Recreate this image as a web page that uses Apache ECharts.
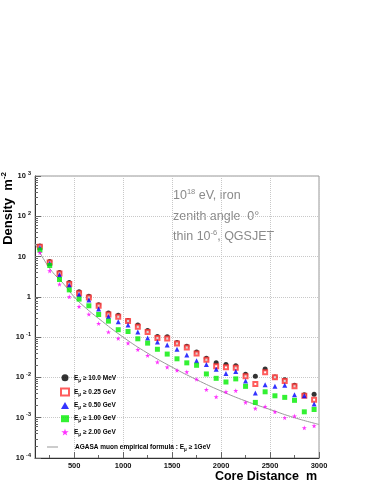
<!DOCTYPE html>
<html>
<head>
<meta charset="UTF-8">
<title></title>
<style>
html, body { margin: 0; padding: 0; background: #fff; }
#main { width: 382px; height: 494px; }
</style>
</head>
<body>
<div id="main"></div>
<script src="https://cdn.jsdelivr.net/npm/echarts@6/dist/echarts.min.js"></script>
<script>
// core distance of each simulated point (m)
const distances = [150, 250, 350, 450, 550, 650, 750, 850, 950, 1050, 1150, 1250, 1350, 1450, 1550,
  1650, 1750, 1850, 1950, 2050, 2150, 2250, 2350, 2450, 2550, 2650, 2750, 2850, 2950];

// densities (m^-2) per energy threshold
const e10MeV = [18.3, 7.5, 4.0, 2.26, 1.33, 1.03, 0.64, 0.40, 0.35, 0.26, 0.20, 0.147, 0.104, 0.103, 0.074,
  0.059, 0.043, 0.030, 0.023, 0.021, 0.0195, 0.012, 0.0107, 0.0162, 0.0103, 0.0087, 0.0064, 0.0037, 0.0038];
const e025GeV = [17.5, 7.1, 3.8, 2.1, 1.23, 0.96, 0.60, 0.365, 0.32, 0.25, 0.18, 0.135, 0.095, 0.093, 0.07,
  0.055, 0.039, 0.0275, 0.019, 0.018, 0.0175, 0.0107, 0.0069, 0.0134, 0.0101, 0.0082, 0.006, 0.0035, 0.0028];
const e050GeV = [16.5, 6.7, 3.5, 1.95, 1.14, 0.84, 0.50, 0.325, 0.24, 0.20, 0.134, 0.095, 0.076, 0.064, 0.05,
  0.036, 0.026, 0.021, 0.016, 0.0126, 0.014, 0.0082, 0.0041, 0.0066, 0.006, 0.0064, 0.0037, 0.0035, 0.0022];
const e100GeV = [14.5, 6.0, 2.7, 1.49, 0.88, 0.60, 0.365, 0.25, 0.153, 0.138, 0.091, 0.071, 0.05, 0.038, 0.029,
  0.023, 0.020, 0.0122, 0.0095, 0.0077, 0.0092, 0.006, 0.0024, 0.0044, 0.0035, 0.0032, 0.0027, 0.0014, 0.0016];
const e200GeV = [12.5, 4.4, 2.06, 1.0, 0.575, 0.37, 0.218, 0.134, 0.093, 0.071, 0.049, 0.035, 0.024, 0.018, 0.015,
  0.0137, 0.009, 0.005, 0.0033, 0.0044, 0.0047, 0.0024, 0.0017, 0.0019, 0.0014, 0.001, 0.0011, 0.00056, 0.00063];

// AGASA curve
const agasaR = [100, 150, 200, 250, 300, 350, 400, 500, 600, 750, 1000, 1250, 1500, 1750, 2000, 2250, 2500, 2750, 3000];
const agasaRho = [21, 12.5, 7.8, 5.1, 3.6, 2.7, 2.0, 1.0, 0.58, 0.29, 0.10, 0.04, 0.018, 0.0088, 0.0046, 0.0026, 0.0016, 0.001, 0.00068];

const thresholds = ['10.0 MeV', '0.25 GeV', '0.50 GeV', '1.00 GeV', '2.00 GeV'];
const xTicks = [500, 1000, 1500, 2000, 2500, 3000];
const xMinorTicks = [250, 750, 1250, 1750, 2250, 2750];

let yMinorTicks = [];
for (let d = -4; d < 3; d++) {
  for (let k = 2; k < 10; k++) yMinorTicks.push(k * Math.pow(10, d));
}

const font = 'Liberation Sans, Arial, Helvetica, sans-serif';
const star = 'path://M50,0 L61,35 L98,35 L68,57 L79,91 L50,70 L21,91 L32,57 L2,35 L39,35 Z';

function pts(ys) {
  return distances.map((r, i) => [r, ys[i]]);
}

const markers = [
  { data: e10MeV, symbol: 'circle', size: 5, color: '#000' },
  { data: e025GeV, symbol: 'emptyRect', size: 4, color: '#f33' },
  { data: e050GeV, symbol: 'triangle', size: 5, color: '#00f' },
  { data: e100GeV, symbol: 'rect', size: 5, color: '#0e0' },
  { data: e200GeV, symbol: star, size: 5, color: '#f0f' }
];

let series = markers.map((m, i) => ({
  name: 'E_mu ≥ ' + thresholds[i],
  type: 'scatter',
  symbol: m.symbol,
  symbolSize: m.size,
  itemStyle: m.symbol === 'emptyRect'
    ? { color: m.color, borderColor: m.color, borderWidth: 1.3 }
    : { color: m.color },
  data: pts(m.data),
  z: 3 + i
}));

series.push({
  name: 'AGASA muon empirical formula : E_mu ≥ 1GeV',
  type: 'line',
  smooth: true,
  symbol: 'none',
  itemStyle: { color: '#999' },
  lineStyle: { color: '#999', width: 1 },
  data: agasaR.map((r, i) => [r, agasaRho[i]]),
  z: 2
});

const legendRich = {
  t: { fontSize: 6.5, fontWeight: 'bold', fontFamily: font, color: '#000', lineHeight: 10 },
  u: { fontSize: 4.5, fontWeight: 'bold', fontFamily: font, color: '#000', lineHeight: 5, verticalAlign: 'bottom' }
};
function legendFmt(name) {
  const parts = name.split('E_mu');
  return '{t|' + parts[0] + 'E}{u|μ}{t|' + parts[1] + '}';
}

var myChart = echarts.init(document.getElementById('main'));
var option = {
  animation: false,
  grid: {
    left: 35, right: 63, top: 176, bottom: 36,
    show: true, borderColor: '#999', borderWidth: 1
  },
  legend: [{
    data: series.slice(0, 5).map(s => s.name),
    orient: 'vertical',
    left: 60, top: 374.3, padding: 0,
    itemWidth: 8, itemHeight: 7, itemGap: 4.8,
    formatter: legendFmt,
    textStyle: { rich: legendRich }
  }, {
    data: [{ name: series[5].name, icon: 'rect' }],
    orient: 'vertical',
    left: 47, top: 443.5, padding: 0,
    itemWidth: 11, itemHeight: 1,
    formatter: legendFmt,
    textStyle: { rich: legendRich, padding: [0, 0, 0, 12] }
  }],
  xAxis: [{
    type: 'value',
    min: 100, max: 3000,
    axisLine: { lineStyle: { color: '#333' } },
    axisTick: { inside: true, length: 6, customValues: xTicks, lineStyle: { color: '#666' } },
    axisLabel: {
      customValues: xTicks, margin: 4,
      formatter: v => String(v),
      fontSize: 7.5, fontWeight: 'bold', fontFamily: font, color: '#111'
    },
    splitLine: { show: true, lineStyle: { color: '#c8c8c8', type: [1, 1] } }
  }, {
    type: 'value',
    min: 100, max: 3000,
    position: 'bottom',
    axisLine: { show: false },
    axisTick: { inside: true, length: 3, customValues: xMinorTicks, lineStyle: { color: '#666' } },
    axisLabel: { show: false },
    splitLine: { show: false }
  }],
  yAxis: [{
    type: 'log',
    logBase: 10,
    min: 1e-4, max: 1e3,
    axisLine: { show: true, lineStyle: { color: '#333' } },
    axisTick: { show: true, inside: true, length: 6, lineStyle: { color: '#666' } },
    axisLabel: {
      margin: 4,
      formatter: function (v) {
        const e = Math.round(Math.log10(v));
        if (e === 0) return '{b|1}';
        if (e === 1) return '{b|10}{sp| }';
        return '{b|10}{s|' + e + '}';
      },
      rich: {
        b: { fontSize: 7.5, fontWeight: 'bold', fontFamily: font, color: '#111', lineHeight: 12 },
        s: { fontSize: 5.5, fontWeight: 'bold', fontFamily: font, color: '#111', lineHeight: 6, verticalAlign: 'top', padding: [0, 0, 0, 2] },
        sp: { fontSize: 5.5, width: 5 }
      }
    },
    splitLine: { show: true, lineStyle: { color: '#c8c8c8', type: [1, 1] } }
  }, {
    type: 'log',
    logBase: 10,
    min: 1e-4, max: 1e3,
    position: 'left',
    axisLine: { show: false },
    axisTick: { show: true, inside: true, length: 3, customValues: yMinorTicks, lineStyle: { color: '#666' } },
    axisLabel: { show: false },
    splitLine: { show: false }
  }],
  graphic: [{
    type: 'text', x: 8, y: 172, rotation: Math.PI / 2,
    style: {
      text: '{d|Density  m}{s|-2}', align: 'right', verticalAlign: 'middle',
      rich: {
        d: { fontSize: 13, fontWeight: 'bold', fontFamily: font, fill: '#000', lineHeight: 16 },
        s: { fontSize: 8, fontWeight: 'bold', fontFamily: font, fill: '#000', lineHeight: 9, verticalAlign: 'top' }
      }
    }
  }, {
    type: 'text', x: 317, y: 477,
    style: {
      text: 'Core Distance  m', align: 'right', verticalAlign: 'middle',
      fontSize: 12.5, fontWeight: 'bold', fontFamily: font, fill: '#000'
    }
  }, {
    type: 'group', x: 173, y: 196,
    children: [
      { type: 'text', y: 0, style: { text: '{n|10}{s|18}{n| eV, iron}', verticalAlign: 'middle', rich: {} } },
      { type: 'text', y: 21, style: { text: '{n|zenith angle  0°}', verticalAlign: 'middle', rich: {} } },
      { type: 'text', y: 41, style: { text: '{n|thin 10}{s|-6}{n|, QGSJET}', verticalAlign: 'middle', rich: {} } }
    ]
  }],
  series: series
};

const noteRich = {
  n: { fontSize: 12.5, fontFamily: font, fill: '#8a8a8a', lineHeight: 16 },
  s: { fontSize: 7.5, fontFamily: font, fill: '#8a8a8a', lineHeight: 8, verticalAlign: 'top' }
};
option.graphic[2].children.forEach(c => { c.style.rich = noteRich; });

myChart.setOption(option);
</script>
</body>
</html>
